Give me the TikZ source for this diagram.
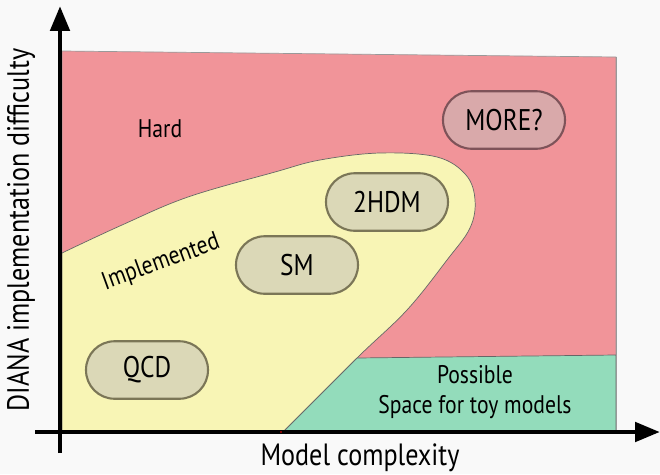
\documentclass[tikz,border=0pt]{standalone}
\usepackage{fontspec}
\setmainfont{PT Sans}[FakeStretch=0.85]
\usetikzlibrary{arrows.meta}
\definecolor{bgcol}{HTML}{F9F9F9}
\definecolor{hardcol}{HTML}{F19499}
\definecolor{implcol}{HTML}{F8F5B5}
\definecolor{toycol}{HTML}{93DCBB}
\definecolor{modfill}{HTML}{DBD8B7}
\definecolor{moddraw}{HTML}{7B7657}
\definecolor{morefill}{HTML}{D9A9AA}
\definecolor{moredraw}{HTML}{7E5359}
\begin{document}
\begin{tikzpicture}[
        x=0.02cm, y=-0.02cm,
        model/.style={rectangle, draw=moddraw, fill=modfill, line width=1.2pt,
            rounded corners=0.57cm, minimum width=2.44cm, minimum height=1.15cm,
            font=\fontsize{17}{20}\selectfont},
        region/.style={draw=black!60, line width=0.4pt},
        label/.style={font=\fontsize{14.5}{17}\selectfont, align=center},
        axis/.style={line width=2.8pt, -{Triangle[length=0.5cm, width=0.38cm]}}
    ]

        \fill[bgcol] (0,0) rectangle (660,474);
        \useasboundingbox (0,0) rectangle (660,474);

        % regions
        \filldraw[region, fill=hardcol, draw=black!40] (62,51) -- (616,57) -- (616,432) -- (62,432) -- cycle;
        \filldraw[region, fill=implcol] plot[smooth, tension=0.6] coordinates {
            (62,253) (122,225) (188,197) (275,172) (320,160) (380,153) (437,157)
            (466,175) (475,200) (470,228) (447,260) (407,310) (357,358) (283,432)}
            -- (62,432) -- cycle;
        \filldraw[region, fill=toycol] (283,432) -- (357,358) -- (616,355) -- (616,432) -- cycle;
        \draw[black!40, line width=0.4pt] (616,57) -- (616,432);

        \node[label] (hard) at (160,129) {Hard};
        \node[label, rotate=20] (impl) at (161,263) {Implemented};
        \node[label, align=center] (toy) at (475,392) {Possible\\Space for toy models};

        % models
        \node[model] (qcd)  at (147,370) {QCD};
        \node[model] (sm)   at (297,265) {SM};
        \node[model] (thdm) at (387,202) {2HDM};
        \node[model, draw=moredraw, fill=morefill] (more) at (504,120) {MORE?};

        % axes
        \coordinate (yfoot) at (60,453);
        \coordinate (ytip)  at (60,6);
        \coordinate (xfoot) at (35,432);
        \coordinate (xtip)  at (660,432);
        \draw[axis] (yfoot) -- (ytip);
        \draw[axis] (xfoot) -- (xtip);
        \fill[red] (281,432) circle (0.9);

        \node[font=\fontsize{17.5}{20}\selectfont] (xlab) at (360,458) {Model complexity};
        \node[font=\fontsize{17.5}{20}\selectfont, rotate=90] (ylab) at (21,230) {DIANA implementation difficulty};

    \end{tikzpicture}
\end{document}
